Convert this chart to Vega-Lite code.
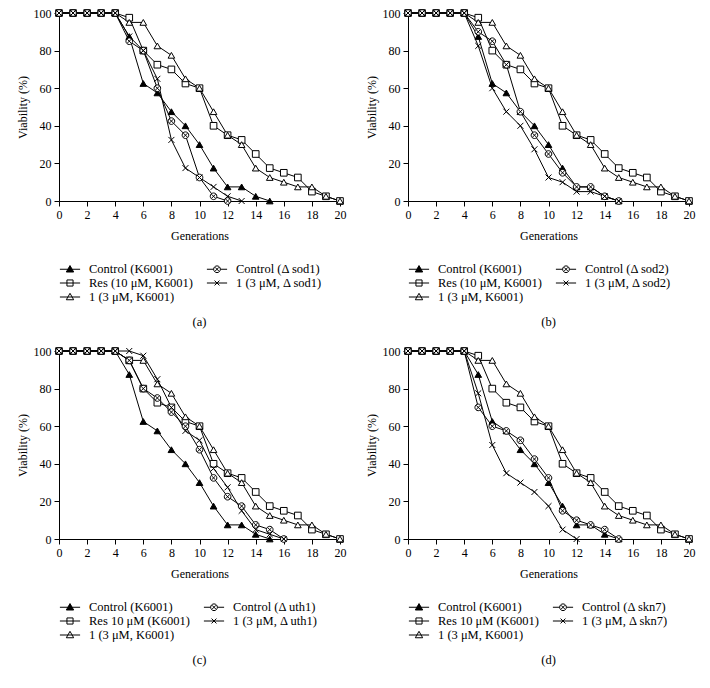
{
  "$schema": "https://vega.github.io/schema/vega-lite/v6.json",
  "padding": {"left": 16, "top": 7, "right": 8, "bottom": 5},
  "background": "white",
  "config": {
    "font": "Liberation Serif",
    "view": {"stroke": null},
    "axis": {"labelFont": "Liberation Serif", "titleFont": "Liberation Serif", "labelFontSize": 12, "titleFontSize": 12, "titleFontWeight": "normal", "labelColor": "black", "titleColor": "black", "domainColor": "black", "tickColor": "black", "grid": false, "tickSize": 5, "labelPadding": 3, "labelFlush": false},
    "axisX": {"titlePadding": 10},
    "legend": {"labelFont": "Liberation Serif", "labelFontSize": 12.5, "labelColor": "black", "columns": 2, "orient": "bottom", "direction": "horizontal", "title": null, "symbolSize": 150, "rowPadding": 0, "columnPadding": 11, "labelOffset": 12, "offset": 17, "padding": 4, "symbolStrokeColor": "black", "symbolStrokeWidth": 1},
    "title": {"font": "Liberation Serif", "fontSize": 12.5, "fontWeight": "normal", "orient": "bottom", "color": "black", "anchor": "middle", "offset": 8}
  },
  "datasets": {
    "a": [
      {"s": "Control (K6001)", "g": 0, "v": 100}, {"s": "Control (K6001)", "g": 1, "v": 100}, {"s": "Control (K6001)", "g": 2, "v": 100}, {"s": "Control (K6001)", "g": 3, "v": 100}, {"s": "Control (K6001)", "g": 4, "v": 100}, {"s": "Control (K6001)", "g": 5, "v": 87.5}, {"s": "Control (K6001)", "g": 6, "v": 62.5}, {"s": "Control (K6001)", "g": 7, "v": 57.5}, {"s": "Control (K6001)", "g": 8, "v": 47.5}, {"s": "Control (K6001)", "g": 9, "v": 40}, {"s": "Control (K6001)", "g": 10, "v": 30}, {"s": "Control (K6001)", "g": 11, "v": 17.5}, {"s": "Control (K6001)", "g": 12, "v": 7.5}, {"s": "Control (K6001)", "g": 13, "v": 7.5}, {"s": "Control (K6001)", "g": 14, "v": 2.5}, {"s": "Control (K6001)", "g": 15, "v": 0},
      {"s": "Res (10 μM, K6001)", "g": 0, "v": 100}, {"s": "Res (10 μM, K6001)", "g": 1, "v": 100}, {"s": "Res (10 μM, K6001)", "g": 2, "v": 100}, {"s": "Res (10 μM, K6001)", "g": 3, "v": 100}, {"s": "Res (10 μM, K6001)", "g": 4, "v": 100}, {"s": "Res (10 μM, K6001)", "g": 5, "v": 97.5}, {"s": "Res (10 μM, K6001)", "g": 6, "v": 80}, {"s": "Res (10 μM, K6001)", "g": 7, "v": 72.5}, {"s": "Res (10 μM, K6001)", "g": 8, "v": 70}, {"s": "Res (10 μM, K6001)", "g": 9, "v": 62.5}, {"s": "Res (10 μM, K6001)", "g": 10, "v": 60}, {"s": "Res (10 μM, K6001)", "g": 11, "v": 40}, {"s": "Res (10 μM, K6001)", "g": 12, "v": 35}, {"s": "Res (10 μM, K6001)", "g": 13, "v": 32.5}, {"s": "Res (10 μM, K6001)", "g": 14, "v": 25}, {"s": "Res (10 μM, K6001)", "g": 15, "v": 17.5}, {"s": "Res (10 μM, K6001)", "g": 16, "v": 15}, {"s": "Res (10 μM, K6001)", "g": 17, "v": 12.5}, {"s": "Res (10 μM, K6001)", "g": 18, "v": 5}, {"s": "Res (10 μM, K6001)", "g": 19, "v": 2.5}, {"s": "Res (10 μM, K6001)", "g": 20, "v": 0},
      {"s": "1 (3 μM, K6001)", "g": 0, "v": 100}, {"s": "1 (3 μM, K6001)", "g": 1, "v": 100}, {"s": "1 (3 μM, K6001)", "g": 2, "v": 100}, {"s": "1 (3 μM, K6001)", "g": 3, "v": 100}, {"s": "1 (3 μM, K6001)", "g": 4, "v": 100}, {"s": "1 (3 μM, K6001)", "g": 5, "v": 95}, {"s": "1 (3 μM, K6001)", "g": 6, "v": 95}, {"s": "1 (3 μM, K6001)", "g": 7, "v": 82.5}, {"s": "1 (3 μM, K6001)", "g": 8, "v": 77.5}, {"s": "1 (3 μM, K6001)", "g": 9, "v": 65}, {"s": "1 (3 μM, K6001)", "g": 10, "v": 60}, {"s": "1 (3 μM, K6001)", "g": 11, "v": 47.5}, {"s": "1 (3 μM, K6001)", "g": 12, "v": 35}, {"s": "1 (3 μM, K6001)", "g": 13, "v": 30}, {"s": "1 (3 μM, K6001)", "g": 14, "v": 17.5}, {"s": "1 (3 μM, K6001)", "g": 15, "v": 12.5}, {"s": "1 (3 μM, K6001)", "g": 16, "v": 10}, {"s": "1 (3 μM, K6001)", "g": 17, "v": 7.5}, {"s": "1 (3 μM, K6001)", "g": 18, "v": 7.5}, {"s": "1 (3 μM, K6001)", "g": 19, "v": 2.5}, {"s": "1 (3 μM, K6001)", "g": 20, "v": 0},
      {"s": "Control (Δ sod1)", "g": 0, "v": 100}, {"s": "Control (Δ sod1)", "g": 1, "v": 100}, {"s": "Control (Δ sod1)", "g": 2, "v": 100}, {"s": "Control (Δ sod1)", "g": 3, "v": 100}, {"s": "Control (Δ sod1)", "g": 4, "v": 100}, {"s": "Control (Δ sod1)", "g": 5, "v": 85}, {"s": "Control (Δ sod1)", "g": 6, "v": 80}, {"s": "Control (Δ sod1)", "g": 7, "v": 60}, {"s": "Control (Δ sod1)", "g": 8, "v": 42.5}, {"s": "Control (Δ sod1)", "g": 9, "v": 35}, {"s": "Control (Δ sod1)", "g": 10, "v": 12.5}, {"s": "Control (Δ sod1)", "g": 11, "v": 2.5}, {"s": "Control (Δ sod1)", "g": 12, "v": 0},
      {"s": "1 (3 μM, Δ sod1)", "g": 0, "v": 100}, {"s": "1 (3 μM, Δ sod1)", "g": 1, "v": 100}, {"s": "1 (3 μM, Δ sod1)", "g": 2, "v": 100}, {"s": "1 (3 μM, Δ sod1)", "g": 3, "v": 100}, {"s": "1 (3 μM, Δ sod1)", "g": 4, "v": 100}, {"s": "1 (3 μM, Δ sod1)", "g": 5, "v": 87.5}, {"s": "1 (3 μM, Δ sod1)", "g": 6, "v": 80}, {"s": "1 (3 μM, Δ sod1)", "g": 7, "v": 65}, {"s": "1 (3 μM, Δ sod1)", "g": 8, "v": 32.5}, {"s": "1 (3 μM, Δ sod1)", "g": 9, "v": 17.5}, {"s": "1 (3 μM, Δ sod1)", "g": 10, "v": 12.5}, {"s": "1 (3 μM, Δ sod1)", "g": 11, "v": 7.5}, {"s": "1 (3 μM, Δ sod1)", "g": 12, "v": 2.5}, {"s": "1 (3 μM, Δ sod1)", "g": 13, "v": 0}
    ],
    "b": [
      {"s": "Control (K6001)", "g": 0, "v": 100}, {"s": "Control (K6001)", "g": 1, "v": 100}, {"s": "Control (K6001)", "g": 2, "v": 100}, {"s": "Control (K6001)", "g": 3, "v": 100}, {"s": "Control (K6001)", "g": 4, "v": 100}, {"s": "Control (K6001)", "g": 5, "v": 87.5}, {"s": "Control (K6001)", "g": 6, "v": 62.5}, {"s": "Control (K6001)", "g": 7, "v": 57.5}, {"s": "Control (K6001)", "g": 8, "v": 47.5}, {"s": "Control (K6001)", "g": 9, "v": 40}, {"s": "Control (K6001)", "g": 10, "v": 30}, {"s": "Control (K6001)", "g": 11, "v": 17.5}, {"s": "Control (K6001)", "g": 12, "v": 7.5}, {"s": "Control (K6001)", "g": 13, "v": 7.5}, {"s": "Control (K6001)", "g": 14, "v": 2.5}, {"s": "Control (K6001)", "g": 15, "v": 0},
      {"s": "Res (10 μM, K6001)", "g": 0, "v": 100}, {"s": "Res (10 μM, K6001)", "g": 1, "v": 100}, {"s": "Res (10 μM, K6001)", "g": 2, "v": 100}, {"s": "Res (10 μM, K6001)", "g": 3, "v": 100}, {"s": "Res (10 μM, K6001)", "g": 4, "v": 100}, {"s": "Res (10 μM, K6001)", "g": 5, "v": 97.5}, {"s": "Res (10 μM, K6001)", "g": 6, "v": 80}, {"s": "Res (10 μM, K6001)", "g": 7, "v": 72.5}, {"s": "Res (10 μM, K6001)", "g": 8, "v": 70}, {"s": "Res (10 μM, K6001)", "g": 9, "v": 62.5}, {"s": "Res (10 μM, K6001)", "g": 10, "v": 60}, {"s": "Res (10 μM, K6001)", "g": 11, "v": 40}, {"s": "Res (10 μM, K6001)", "g": 12, "v": 35}, {"s": "Res (10 μM, K6001)", "g": 13, "v": 32.5}, {"s": "Res (10 μM, K6001)", "g": 14, "v": 25}, {"s": "Res (10 μM, K6001)", "g": 15, "v": 17.5}, {"s": "Res (10 μM, K6001)", "g": 16, "v": 15}, {"s": "Res (10 μM, K6001)", "g": 17, "v": 12.5}, {"s": "Res (10 μM, K6001)", "g": 18, "v": 5}, {"s": "Res (10 μM, K6001)", "g": 19, "v": 2.5}, {"s": "Res (10 μM, K6001)", "g": 20, "v": 0},
      {"s": "1 (3 μM, K6001)", "g": 0, "v": 100}, {"s": "1 (3 μM, K6001)", "g": 1, "v": 100}, {"s": "1 (3 μM, K6001)", "g": 2, "v": 100}, {"s": "1 (3 μM, K6001)", "g": 3, "v": 100}, {"s": "1 (3 μM, K6001)", "g": 4, "v": 100}, {"s": "1 (3 μM, K6001)", "g": 5, "v": 95}, {"s": "1 (3 μM, K6001)", "g": 6, "v": 95}, {"s": "1 (3 μM, K6001)", "g": 7, "v": 82.5}, {"s": "1 (3 μM, K6001)", "g": 8, "v": 77.5}, {"s": "1 (3 μM, K6001)", "g": 9, "v": 65}, {"s": "1 (3 μM, K6001)", "g": 10, "v": 60}, {"s": "1 (3 μM, K6001)", "g": 11, "v": 47.5}, {"s": "1 (3 μM, K6001)", "g": 12, "v": 35}, {"s": "1 (3 μM, K6001)", "g": 13, "v": 30}, {"s": "1 (3 μM, K6001)", "g": 14, "v": 17.5}, {"s": "1 (3 μM, K6001)", "g": 15, "v": 12.5}, {"s": "1 (3 μM, K6001)", "g": 16, "v": 10}, {"s": "1 (3 μM, K6001)", "g": 17, "v": 7.5}, {"s": "1 (3 μM, K6001)", "g": 18, "v": 7.5}, {"s": "1 (3 μM, K6001)", "g": 19, "v": 2.5}, {"s": "1 (3 μM, K6001)", "g": 20, "v": 0},
      {"s": "Control (Δ sod2)", "g": 0, "v": 100}, {"s": "Control (Δ sod2)", "g": 1, "v": 100}, {"s": "Control (Δ sod2)", "g": 2, "v": 100}, {"s": "Control (Δ sod2)", "g": 3, "v": 100}, {"s": "Control (Δ sod2)", "g": 4, "v": 100}, {"s": "Control (Δ sod2)", "g": 5, "v": 90}, {"s": "Control (Δ sod2)", "g": 6, "v": 85}, {"s": "Control (Δ sod2)", "g": 7, "v": 72.5}, {"s": "Control (Δ sod2)", "g": 8, "v": 47.5}, {"s": "Control (Δ sod2)", "g": 9, "v": 35}, {"s": "Control (Δ sod2)", "g": 10, "v": 25}, {"s": "Control (Δ sod2)", "g": 11, "v": 15}, {"s": "Control (Δ sod2)", "g": 12, "v": 7.5}, {"s": "Control (Δ sod2)", "g": 13, "v": 7.5}, {"s": "Control (Δ sod2)", "g": 14, "v": 2.5}, {"s": "Control (Δ sod2)", "g": 15, "v": 0},
      {"s": "1 (3 μM, Δ sod2)", "g": 0, "v": 100}, {"s": "1 (3 μM, Δ sod2)", "g": 1, "v": 100}, {"s": "1 (3 μM, Δ sod2)", "g": 2, "v": 100}, {"s": "1 (3 μM, Δ sod2)", "g": 3, "v": 100}, {"s": "1 (3 μM, Δ sod2)", "g": 4, "v": 100}, {"s": "1 (3 μM, Δ sod2)", "g": 5, "v": 82.5}, {"s": "1 (3 μM, Δ sod2)", "g": 6, "v": 60}, {"s": "1 (3 μM, Δ sod2)", "g": 7, "v": 47.5}, {"s": "1 (3 μM, Δ sod2)", "g": 8, "v": 40}, {"s": "1 (3 μM, Δ sod2)", "g": 9, "v": 27.5}, {"s": "1 (3 μM, Δ sod2)", "g": 10, "v": 12.5}, {"s": "1 (3 μM, Δ sod2)", "g": 11, "v": 10}, {"s": "1 (3 μM, Δ sod2)", "g": 12, "v": 5}, {"s": "1 (3 μM, Δ sod2)", "g": 13, "v": 5}, {"s": "1 (3 μM, Δ sod2)", "g": 14, "v": 2.5}, {"s": "1 (3 μM, Δ sod2)", "g": 15, "v": 0}
    ],
    "c": [
      {"s": "Control (K6001)", "g": 0, "v": 100}, {"s": "Control (K6001)", "g": 1, "v": 100}, {"s": "Control (K6001)", "g": 2, "v": 100}, {"s": "Control (K6001)", "g": 3, "v": 100}, {"s": "Control (K6001)", "g": 4, "v": 100}, {"s": "Control (K6001)", "g": 5, "v": 87.5}, {"s": "Control (K6001)", "g": 6, "v": 62.5}, {"s": "Control (K6001)", "g": 7, "v": 57.5}, {"s": "Control (K6001)", "g": 8, "v": 47.5}, {"s": "Control (K6001)", "g": 9, "v": 40}, {"s": "Control (K6001)", "g": 10, "v": 30}, {"s": "Control (K6001)", "g": 11, "v": 17.5}, {"s": "Control (K6001)", "g": 12, "v": 7.5}, {"s": "Control (K6001)", "g": 13, "v": 7.5}, {"s": "Control (K6001)", "g": 14, "v": 2.5}, {"s": "Control (K6001)", "g": 15, "v": 0},
      {"s": "Res 10 μM (K6001)", "g": 0, "v": 100}, {"s": "Res 10 μM (K6001)", "g": 1, "v": 100}, {"s": "Res 10 μM (K6001)", "g": 2, "v": 100}, {"s": "Res 10 μM (K6001)", "g": 3, "v": 100}, {"s": "Res 10 μM (K6001)", "g": 4, "v": 100}, {"s": "Res 10 μM (K6001)", "g": 5, "v": 95}, {"s": "Res 10 μM (K6001)", "g": 6, "v": 80}, {"s": "Res 10 μM (K6001)", "g": 7, "v": 72.5}, {"s": "Res 10 μM (K6001)", "g": 8, "v": 70}, {"s": "Res 10 μM (K6001)", "g": 9, "v": 62.5}, {"s": "Res 10 μM (K6001)", "g": 10, "v": 60}, {"s": "Res 10 μM (K6001)", "g": 11, "v": 40}, {"s": "Res 10 μM (K6001)", "g": 12, "v": 35}, {"s": "Res 10 μM (K6001)", "g": 13, "v": 32.5}, {"s": "Res 10 μM (K6001)", "g": 14, "v": 25}, {"s": "Res 10 μM (K6001)", "g": 15, "v": 17.5}, {"s": "Res 10 μM (K6001)", "g": 16, "v": 15}, {"s": "Res 10 μM (K6001)", "g": 17, "v": 12.5}, {"s": "Res 10 μM (K6001)", "g": 18, "v": 5}, {"s": "Res 10 μM (K6001)", "g": 19, "v": 2.5}, {"s": "Res 10 μM (K6001)", "g": 20, "v": 0},
      {"s": "1 (3 μM, K6001)", "g": 0, "v": 100}, {"s": "1 (3 μM, K6001)", "g": 1, "v": 100}, {"s": "1 (3 μM, K6001)", "g": 2, "v": 100}, {"s": "1 (3 μM, K6001)", "g": 3, "v": 100}, {"s": "1 (3 μM, K6001)", "g": 4, "v": 100}, {"s": "1 (3 μM, K6001)", "g": 5, "v": 95}, {"s": "1 (3 μM, K6001)", "g": 6, "v": 95}, {"s": "1 (3 μM, K6001)", "g": 7, "v": 82.5}, {"s": "1 (3 μM, K6001)", "g": 8, "v": 77.5}, {"s": "1 (3 μM, K6001)", "g": 9, "v": 65}, {"s": "1 (3 μM, K6001)", "g": 10, "v": 60}, {"s": "1 (3 μM, K6001)", "g": 11, "v": 47.5}, {"s": "1 (3 μM, K6001)", "g": 12, "v": 35}, {"s": "1 (3 μM, K6001)", "g": 13, "v": 30}, {"s": "1 (3 μM, K6001)", "g": 14, "v": 17.5}, {"s": "1 (3 μM, K6001)", "g": 15, "v": 12.5}, {"s": "1 (3 μM, K6001)", "g": 16, "v": 10}, {"s": "1 (3 μM, K6001)", "g": 17, "v": 7.5}, {"s": "1 (3 μM, K6001)", "g": 18, "v": 7.5}, {"s": "1 (3 μM, K6001)", "g": 19, "v": 2.5}, {"s": "1 (3 μM, K6001)", "g": 20, "v": 0},
      {"s": "Control (Δ uth1)", "g": 0, "v": 100}, {"s": "Control (Δ uth1)", "g": 1, "v": 100}, {"s": "Control (Δ uth1)", "g": 2, "v": 100}, {"s": "Control (Δ uth1)", "g": 3, "v": 100}, {"s": "Control (Δ uth1)", "g": 4, "v": 100}, {"s": "Control (Δ uth1)", "g": 5, "v": 95}, {"s": "Control (Δ uth1)", "g": 6, "v": 80}, {"s": "Control (Δ uth1)", "g": 7, "v": 75}, {"s": "Control (Δ uth1)", "g": 8, "v": 67.5}, {"s": "Control (Δ uth1)", "g": 9, "v": 60}, {"s": "Control (Δ uth1)", "g": 10, "v": 47.5}, {"s": "Control (Δ uth1)", "g": 11, "v": 32.5}, {"s": "Control (Δ uth1)", "g": 12, "v": 22.5}, {"s": "Control (Δ uth1)", "g": 13, "v": 17.5}, {"s": "Control (Δ uth1)", "g": 14, "v": 7.5}, {"s": "Control (Δ uth1)", "g": 15, "v": 5}, {"s": "Control (Δ uth1)", "g": 16, "v": 0},
      {"s": "1 (3 μM, Δ uth1)", "g": 0, "v": 100}, {"s": "1 (3 μM, Δ uth1)", "g": 1, "v": 100}, {"s": "1 (3 μM, Δ uth1)", "g": 2, "v": 100}, {"s": "1 (3 μM, Δ uth1)", "g": 3, "v": 100}, {"s": "1 (3 μM, Δ uth1)", "g": 4, "v": 100}, {"s": "1 (3 μM, Δ uth1)", "g": 5, "v": 100}, {"s": "1 (3 μM, Δ uth1)", "g": 6, "v": 97.5}, {"s": "1 (3 μM, Δ uth1)", "g": 7, "v": 85}, {"s": "1 (3 μM, Δ uth1)", "g": 8, "v": 70}, {"s": "1 (3 μM, Δ uth1)", "g": 9, "v": 57.5}, {"s": "1 (3 μM, Δ uth1)", "g": 10, "v": 52.5}, {"s": "1 (3 μM, Δ uth1)", "g": 11, "v": 37.5}, {"s": "1 (3 μM, Δ uth1)", "g": 12, "v": 27.5}, {"s": "1 (3 μM, Δ uth1)", "g": 13, "v": 15}, {"s": "1 (3 μM, Δ uth1)", "g": 14, "v": 5}, {"s": "1 (3 μM, Δ uth1)", "g": 15, "v": 2.5}, {"s": "1 (3 μM, Δ uth1)", "g": 16, "v": 0}
    ],
    "d": [
      {"s": "Control (K6001)", "g": 0, "v": 100}, {"s": "Control (K6001)", "g": 1, "v": 100}, {"s": "Control (K6001)", "g": 2, "v": 100}, {"s": "Control (K6001)", "g": 3, "v": 100}, {"s": "Control (K6001)", "g": 4, "v": 100}, {"s": "Control (K6001)", "g": 5, "v": 87.5}, {"s": "Control (K6001)", "g": 6, "v": 62.5}, {"s": "Control (K6001)", "g": 7, "v": 57.5}, {"s": "Control (K6001)", "g": 8, "v": 47.5}, {"s": "Control (K6001)", "g": 9, "v": 40}, {"s": "Control (K6001)", "g": 10, "v": 30}, {"s": "Control (K6001)", "g": 11, "v": 17.5}, {"s": "Control (K6001)", "g": 12, "v": 7.5}, {"s": "Control (K6001)", "g": 13, "v": 7.5}, {"s": "Control (K6001)", "g": 14, "v": 2.5}, {"s": "Control (K6001)", "g": 15, "v": 0},
      {"s": "Res 10 μM (K6001)", "g": 0, "v": 100}, {"s": "Res 10 μM (K6001)", "g": 1, "v": 100}, {"s": "Res 10 μM (K6001)", "g": 2, "v": 100}, {"s": "Res 10 μM (K6001)", "g": 3, "v": 100}, {"s": "Res 10 μM (K6001)", "g": 4, "v": 100}, {"s": "Res 10 μM (K6001)", "g": 5, "v": 97.5}, {"s": "Res 10 μM (K6001)", "g": 6, "v": 80}, {"s": "Res 10 μM (K6001)", "g": 7, "v": 72.5}, {"s": "Res 10 μM (K6001)", "g": 8, "v": 70}, {"s": "Res 10 μM (K6001)", "g": 9, "v": 62.5}, {"s": "Res 10 μM (K6001)", "g": 10, "v": 60}, {"s": "Res 10 μM (K6001)", "g": 11, "v": 40}, {"s": "Res 10 μM (K6001)", "g": 12, "v": 35}, {"s": "Res 10 μM (K6001)", "g": 13, "v": 32.5}, {"s": "Res 10 μM (K6001)", "g": 14, "v": 25}, {"s": "Res 10 μM (K6001)", "g": 15, "v": 17.5}, {"s": "Res 10 μM (K6001)", "g": 16, "v": 15}, {"s": "Res 10 μM (K6001)", "g": 17, "v": 12.5}, {"s": "Res 10 μM (K6001)", "g": 18, "v": 5}, {"s": "Res 10 μM (K6001)", "g": 19, "v": 2.5}, {"s": "Res 10 μM (K6001)", "g": 20, "v": 0},
      {"s": "1 (3 μM, K6001)", "g": 0, "v": 100}, {"s": "1 (3 μM, K6001)", "g": 1, "v": 100}, {"s": "1 (3 μM, K6001)", "g": 2, "v": 100}, {"s": "1 (3 μM, K6001)", "g": 3, "v": 100}, {"s": "1 (3 μM, K6001)", "g": 4, "v": 100}, {"s": "1 (3 μM, K6001)", "g": 5, "v": 95}, {"s": "1 (3 μM, K6001)", "g": 6, "v": 95}, {"s": "1 (3 μM, K6001)", "g": 7, "v": 82.5}, {"s": "1 (3 μM, K6001)", "g": 8, "v": 77.5}, {"s": "1 (3 μM, K6001)", "g": 9, "v": 65}, {"s": "1 (3 μM, K6001)", "g": 10, "v": 60}, {"s": "1 (3 μM, K6001)", "g": 11, "v": 47.5}, {"s": "1 (3 μM, K6001)", "g": 12, "v": 35}, {"s": "1 (3 μM, K6001)", "g": 13, "v": 30}, {"s": "1 (3 μM, K6001)", "g": 14, "v": 17.5}, {"s": "1 (3 μM, K6001)", "g": 15, "v": 12.5}, {"s": "1 (3 μM, K6001)", "g": 16, "v": 10}, {"s": "1 (3 μM, K6001)", "g": 17, "v": 7.5}, {"s": "1 (3 μM, K6001)", "g": 18, "v": 7.5}, {"s": "1 (3 μM, K6001)", "g": 19, "v": 2.5}, {"s": "1 (3 μM, K6001)", "g": 20, "v": 0},
      {"s": "Control (Δ skn7)", "g": 0, "v": 100}, {"s": "Control (Δ skn7)", "g": 1, "v": 100}, {"s": "Control (Δ skn7)", "g": 2, "v": 100}, {"s": "Control (Δ skn7)", "g": 3, "v": 100}, {"s": "Control (Δ skn7)", "g": 4, "v": 100}, {"s": "Control (Δ skn7)", "g": 5, "v": 70}, {"s": "Control (Δ skn7)", "g": 6, "v": 60}, {"s": "Control (Δ skn7)", "g": 7, "v": 57.5}, {"s": "Control (Δ skn7)", "g": 8, "v": 52.5}, {"s": "Control (Δ skn7)", "g": 9, "v": 42.5}, {"s": "Control (Δ skn7)", "g": 10, "v": 32.5}, {"s": "Control (Δ skn7)", "g": 11, "v": 15}, {"s": "Control (Δ skn7)", "g": 12, "v": 10}, {"s": "Control (Δ skn7)", "g": 13, "v": 7.5}, {"s": "Control (Δ skn7)", "g": 14, "v": 5}, {"s": "Control (Δ skn7)", "g": 15, "v": 0},
      {"s": "1 (3 μM, Δ skn7)", "g": 0, "v": 100}, {"s": "1 (3 μM, Δ skn7)", "g": 1, "v": 100}, {"s": "1 (3 μM, Δ skn7)", "g": 2, "v": 100}, {"s": "1 (3 μM, Δ skn7)", "g": 3, "v": 100}, {"s": "1 (3 μM, Δ skn7)", "g": 4, "v": 100}, {"s": "1 (3 μM, Δ skn7)", "g": 5, "v": 77.5}, {"s": "1 (3 μM, Δ skn7)", "g": 6, "v": 50}, {"s": "1 (3 μM, Δ skn7)", "g": 7, "v": 35}, {"s": "1 (3 μM, Δ skn7)", "g": 8, "v": 30}, {"s": "1 (3 μM, Δ skn7)", "g": 9, "v": 25}, {"s": "1 (3 μM, Δ skn7)", "g": 10, "v": 17.5}, {"s": "1 (3 μM, Δ skn7)", "g": 11, "v": 5}, {"s": "1 (3 μM, Δ skn7)", "g": 12, "v": 0}
    ]
  },
  "columns": 2,
  "spacing": {"row": 16, "column": 19},
  "resolve": {"scale": {"shape": "independent", "fill": "independent", "stroke": "independent"}, "legend": {"shape": "independent", "fill": "independent", "stroke": "independent"}},
  "concat": [
    {
      "title": "(a)",
      "width": 281, "height": 188,
      "data": {"name": "a"},
      "encoding": {
        "x": {"field": "g", "type": "quantitative", "scale": {"domain": [0, 20], "nice": false}, "axis": {"values": [0, 2, 4, 6, 8, 10, 12, 14, 16, 18, 20], "title": "Generations"}},
        "y": {"field": "v", "type": "quantitative", "scale": {"domain": [0, 100], "nice": false}, "axis": {"values": [0, 20, 40, 60, 80, 100], "title": "Viability (%)"}}
      },
      "resolve": {"scale": {"shape": "independent", "fill": "independent", "stroke": "independent"}},
      "layer": [
        {"mark": {"type": "line", "color": "black", "strokeWidth": 1}, "encoding": {"detail": {"field": "s"}}},
        {"mark": {"type": "point", "filled": true, "size": 44, "stroke": "black", "strokeWidth": 1, "opacity": 1},
         "encoding": {
           "shape": {"field": "s", "type": "nominal", "scale": {"domain": ["Control (K6001)", "Control (Δ sod1)", "Res (10 μM, K6001)", "1 (3 μM, Δ sod1)", "1 (3 μM, K6001)"], "range": ["triangle-up", "M1,0A1,1 0 1,1 -1,0A1,1 0 1,1 1,0ZM-0.6,-0.6L0.6,0.6M-0.6,0.6L0.6,-0.6", "square", "M-0.9,-0.9L0.9,0.9M-0.9,0.9L0.9,-0.9", "triangle-up"]}, "legend": null},
           "fill": {"field": "s", "type": "nominal", "scale": {"domain": ["Control (K6001)", "Control (Δ sod1)", "Res (10 μM, K6001)", "1 (3 μM, Δ sod1)", "1 (3 μM, K6001)"], "range": ["black", "white", "white", "white", "white"]}, "legend": null}
         }},
        {"transform": [{"filter": "datum.g < 0"}],
         "mark": {"type": "point", "filled": true, "strokeWidth": 1, "opacity": 1},
         "encoding": {
           "shape": {"field": "s", "type": "nominal", "scale": {"domain": ["Control (K6001)", "Control (Δ sod1)", "Res (10 μM, K6001)", "1 (3 μM, Δ sod1)", "1 (3 μM, K6001)"], "range": ["M-1.65,0H1.65M0,-0.6L0.6,0.45H-0.6Z", "M-1.65,0H-0.55M0.55,0H1.65M0.55,0A0.55,0.55 0 1,1 -0.55,0A0.55,0.55 0 1,1 0.55,0ZM-0.33,-0.33L0.33,0.33M-0.33,0.33L0.33,-0.33", "M-1.65,0H1.65M-0.5,-0.5H0.5V0.5H-0.5Z", "M-1.65,0H1.65M-0.4,-0.4L0.4,0.4M-0.4,0.4L0.4,-0.4", "M-1.65,0H1.65M0,-0.6L0.6,0.45H-0.6Z"]}},
           "fill": {"field": "s", "type": "nominal", "scale": {"domain": ["Control (K6001)", "Control (Δ sod1)", "Res (10 μM, K6001)", "1 (3 μM, Δ sod1)", "1 (3 μM, K6001)"], "range": ["black", "white", "white", "white", "white"]}},
           "stroke": {"field": "s", "type": "nominal", "scale": {"domain": ["Control (K6001)", "Control (Δ sod1)", "Res (10 μM, K6001)", "1 (3 μM, Δ sod1)", "1 (3 μM, K6001)"], "range": ["black", "black", "black", "black", "black"]}}
         }}
      ]
    },
    {
      "title": "(b)",
      "width": 281, "height": 188,
      "data": {"name": "b"},
      "encoding": {
        "x": {"field": "g", "type": "quantitative", "scale": {"domain": [0, 20], "nice": false}, "axis": {"values": [0, 2, 4, 6, 8, 10, 12, 14, 16, 18, 20], "title": "Generations"}},
        "y": {"field": "v", "type": "quantitative", "scale": {"domain": [0, 100], "nice": false}, "axis": {"values": [0, 20, 40, 60, 80, 100], "title": "Viability (%)"}}
      },
      "resolve": {"scale": {"shape": "independent", "fill": "independent", "stroke": "independent"}},
      "layer": [
        {"mark": {"type": "line", "color": "black", "strokeWidth": 1}, "encoding": {"detail": {"field": "s"}}},
        {"mark": {"type": "point", "filled": true, "size": 44, "stroke": "black", "strokeWidth": 1, "opacity": 1},
         "encoding": {
           "shape": {"field": "s", "type": "nominal", "scale": {"domain": ["Control (K6001)", "Control (Δ sod2)", "Res (10 μM, K6001)", "1 (3 μM, Δ sod2)", "1 (3 μM, K6001)"], "range": ["triangle-up", "M1,0A1,1 0 1,1 -1,0A1,1 0 1,1 1,0ZM-0.6,-0.6L0.6,0.6M-0.6,0.6L0.6,-0.6", "square", "M-0.9,-0.9L0.9,0.9M-0.9,0.9L0.9,-0.9", "triangle-up"]}, "legend": null},
           "fill": {"field": "s", "type": "nominal", "scale": {"domain": ["Control (K6001)", "Control (Δ sod2)", "Res (10 μM, K6001)", "1 (3 μM, Δ sod2)", "1 (3 μM, K6001)"], "range": ["black", "white", "white", "white", "white"]}, "legend": null}
         }},
        {"transform": [{"filter": "datum.g < 0"}],
         "mark": {"type": "point", "filled": true, "strokeWidth": 1, "opacity": 1},
         "encoding": {
           "shape": {"field": "s", "type": "nominal", "scale": {"domain": ["Control (K6001)", "Control (Δ sod2)", "Res (10 μM, K6001)", "1 (3 μM, Δ sod2)", "1 (3 μM, K6001)"], "range": ["M-1.65,0H1.65M0,-0.6L0.6,0.45H-0.6Z", "M-1.65,0H-0.55M0.55,0H1.65M0.55,0A0.55,0.55 0 1,1 -0.55,0A0.55,0.55 0 1,1 0.55,0ZM-0.33,-0.33L0.33,0.33M-0.33,0.33L0.33,-0.33", "M-1.65,0H1.65M-0.5,-0.5H0.5V0.5H-0.5Z", "M-1.65,0H1.65M-0.4,-0.4L0.4,0.4M-0.4,0.4L0.4,-0.4", "M-1.65,0H1.65M0,-0.6L0.6,0.45H-0.6Z"]}},
           "fill": {"field": "s", "type": "nominal", "scale": {"domain": ["Control (K6001)", "Control (Δ sod2)", "Res (10 μM, K6001)", "1 (3 μM, Δ sod2)", "1 (3 μM, K6001)"], "range": ["black", "white", "white", "white", "white"]}},
           "stroke": {"field": "s", "type": "nominal", "scale": {"domain": ["Control (K6001)", "Control (Δ sod2)", "Res (10 μM, K6001)", "1 (3 μM, Δ sod2)", "1 (3 μM, K6001)"], "range": ["black", "black", "black", "black", "black"]}}
         }}
      ]
    },
    {
      "title": "(c)",
      "width": 281, "height": 188,
      "data": {"name": "c"},
      "encoding": {
        "x": {"field": "g", "type": "quantitative", "scale": {"domain": [0, 20], "nice": false}, "axis": {"values": [0, 2, 4, 6, 8, 10, 12, 14, 16, 18, 20], "title": "Generations"}},
        "y": {"field": "v", "type": "quantitative", "scale": {"domain": [0, 100], "nice": false}, "axis": {"values": [0, 20, 40, 60, 80, 100], "title": "Viability (%)"}}
      },
      "resolve": {"scale": {"shape": "independent", "fill": "independent", "stroke": "independent"}},
      "layer": [
        {"mark": {"type": "line", "color": "black", "strokeWidth": 1}, "encoding": {"detail": {"field": "s"}}},
        {"mark": {"type": "point", "filled": true, "size": 44, "stroke": "black", "strokeWidth": 1, "opacity": 1},
         "encoding": {
           "shape": {"field": "s", "type": "nominal", "scale": {"domain": ["Control (K6001)", "Control (Δ uth1)", "Res 10 μM (K6001)", "1 (3 μM, Δ uth1)", "1 (3 μM, K6001)"], "range": ["triangle-up", "M1,0A1,1 0 1,1 -1,0A1,1 0 1,1 1,0ZM-0.6,-0.6L0.6,0.6M-0.6,0.6L0.6,-0.6", "square", "M-0.9,-0.9L0.9,0.9M-0.9,0.9L0.9,-0.9", "triangle-up"]}, "legend": null},
           "fill": {"field": "s", "type": "nominal", "scale": {"domain": ["Control (K6001)", "Control (Δ uth1)", "Res 10 μM (K6001)", "1 (3 μM, Δ uth1)", "1 (3 μM, K6001)"], "range": ["black", "white", "white", "white", "white"]}, "legend": null}
         }},
        {"transform": [{"filter": "datum.g < 0"}],
         "mark": {"type": "point", "filled": true, "strokeWidth": 1, "opacity": 1},
         "encoding": {
           "shape": {"field": "s", "type": "nominal", "scale": {"domain": ["Control (K6001)", "Control (Δ uth1)", "Res 10 μM (K6001)", "1 (3 μM, Δ uth1)", "1 (3 μM, K6001)"], "range": ["M-1.65,0H1.65M0,-0.6L0.6,0.45H-0.6Z", "M-1.65,0H-0.55M0.55,0H1.65M0.55,0A0.55,0.55 0 1,1 -0.55,0A0.55,0.55 0 1,1 0.55,0ZM-0.33,-0.33L0.33,0.33M-0.33,0.33L0.33,-0.33", "M-1.65,0H1.65M-0.5,-0.5H0.5V0.5H-0.5Z", "M-1.65,0H1.65M-0.4,-0.4L0.4,0.4M-0.4,0.4L0.4,-0.4", "M-1.65,0H1.65M0,-0.6L0.6,0.45H-0.6Z"]}},
           "fill": {"field": "s", "type": "nominal", "scale": {"domain": ["Control (K6001)", "Control (Δ uth1)", "Res 10 μM (K6001)", "1 (3 μM, Δ uth1)", "1 (3 μM, K6001)"], "range": ["black", "white", "white", "white", "white"]}},
           "stroke": {"field": "s", "type": "nominal", "scale": {"domain": ["Control (K6001)", "Control (Δ uth1)", "Res 10 μM (K6001)", "1 (3 μM, Δ uth1)", "1 (3 μM, K6001)"], "range": ["black", "black", "black", "black", "black"]}}
         }}
      ]
    },
    {
      "title": "(d)",
      "width": 281, "height": 188,
      "data": {"name": "d"},
      "encoding": {
        "x": {"field": "g", "type": "quantitative", "scale": {"domain": [0, 20], "nice": false}, "axis": {"values": [0, 2, 4, 6, 8, 10, 12, 14, 16, 18, 20], "title": "Generations"}},
        "y": {"field": "v", "type": "quantitative", "scale": {"domain": [0, 100], "nice": false}, "axis": {"values": [0, 20, 40, 60, 80, 100], "title": "Viability (%)"}}
      },
      "resolve": {"scale": {"shape": "independent", "fill": "independent", "stroke": "independent"}},
      "layer": [
        {"mark": {"type": "line", "color": "black", "strokeWidth": 1}, "encoding": {"detail": {"field": "s"}}},
        {"mark": {"type": "point", "filled": true, "size": 44, "stroke": "black", "strokeWidth": 1, "opacity": 1},
         "encoding": {
           "shape": {"field": "s", "type": "nominal", "scale": {"domain": ["Control (K6001)", "Control (Δ skn7)", "Res 10 μM (K6001)", "1 (3 μM, Δ skn7)", "1 (3 μM, K6001)"], "range": ["triangle-up", "M1,0A1,1 0 1,1 -1,0A1,1 0 1,1 1,0ZM-0.6,-0.6L0.6,0.6M-0.6,0.6L0.6,-0.6", "square", "M-0.9,-0.9L0.9,0.9M-0.9,0.9L0.9,-0.9", "triangle-up"]}, "legend": null},
           "fill": {"field": "s", "type": "nominal", "scale": {"domain": ["Control (K6001)", "Control (Δ skn7)", "Res 10 μM (K6001)", "1 (3 μM, Δ skn7)", "1 (3 μM, K6001)"], "range": ["black", "white", "white", "white", "white"]}, "legend": null}
         }},
        {"transform": [{"filter": "datum.g < 0"}],
         "mark": {"type": "point", "filled": true, "strokeWidth": 1, "opacity": 1},
         "encoding": {
           "shape": {"field": "s", "type": "nominal", "scale": {"domain": ["Control (K6001)", "Control (Δ skn7)", "Res 10 μM (K6001)", "1 (3 μM, Δ skn7)", "1 (3 μM, K6001)"], "range": ["M-1.65,0H1.65M0,-0.6L0.6,0.45H-0.6Z", "M-1.65,0H-0.55M0.55,0H1.65M0.55,0A0.55,0.55 0 1,1 -0.55,0A0.55,0.55 0 1,1 0.55,0ZM-0.33,-0.33L0.33,0.33M-0.33,0.33L0.33,-0.33", "M-1.65,0H1.65M-0.5,-0.5H0.5V0.5H-0.5Z", "M-1.65,0H1.65M-0.4,-0.4L0.4,0.4M-0.4,0.4L0.4,-0.4", "M-1.65,0H1.65M0,-0.6L0.6,0.45H-0.6Z"]}},
           "fill": {"field": "s", "type": "nominal", "scale": {"domain": ["Control (K6001)", "Control (Δ skn7)", "Res 10 μM (K6001)", "1 (3 μM, Δ skn7)", "1 (3 μM, K6001)"], "range": ["black", "white", "white", "white", "white"]}},
           "stroke": {"field": "s", "type": "nominal", "scale": {"domain": ["Control (K6001)", "Control (Δ skn7)", "Res 10 μM (K6001)", "1 (3 μM, Δ skn7)", "1 (3 μM, K6001)"], "range": ["black", "black", "black", "black", "black"]}}
         }}
      ]
    }
  ]
}
